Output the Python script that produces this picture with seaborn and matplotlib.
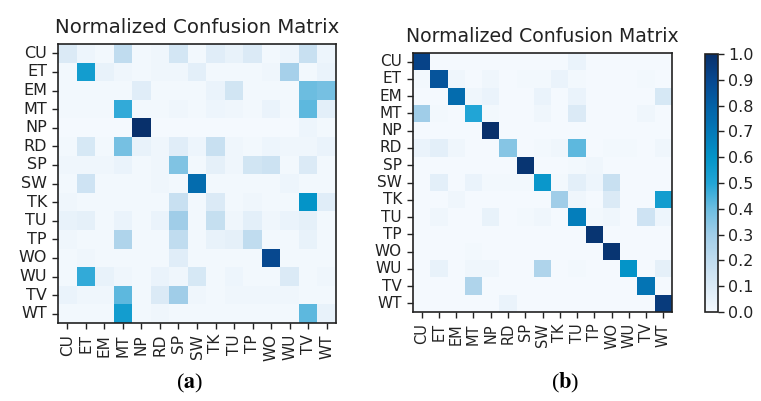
import numpy as np
import matplotlib
matplotlib.use("Agg")
import matplotlib.pyplot as plt
from matplotlib.colors import LinearSegmentedColormap
import seaborn as sns

labels = ["CU", "ET", "EM", "MT", "NP", "RD", "SP", "SW", "TK", "TU", "TP", "WO", "WU", "TV", "WT"]

matrix_a = [
    [0.10, 0.03, 0.01, 0.20, 0.01, 0.02, 0.13, 0.01, 0.08, 0.05, 0.10, 0.01, 0.03, 0.17, 0.03],
    [0.01, 0.55, 0.05, 0.02, 0.01, 0.02, 0.02, 0.07, 0.01, 0.01, 0.01, 0.02, 0.28, 0.01, 0.04],
    [0.01, 0.01, 0.01, 0.01, 0.08, 0.01, 0.01, 0.01, 0.04, 0.14, 0.01, 0.01, 0.01, 0.40, 0.38],
    [0.01, 0.01, 0.01, 0.48, 0.01, 0.01, 0.02, 0.01, 0.03, 0.02, 0.01, 0.04, 0.01, 0.42, 0.07],
    [0.00, 0.00, 0.00, 0.00, 1.00, 0.00, 0.00, 0.00, 0.00, 0.00, 0.00, 0.00, 0.00, 0.03, 0.01],
    [0.01, 0.12, 0.01, 0.38, 0.05, 0.02, 0.08, 0.03, 0.17, 0.02, 0.01, 0.03, 0.02, 0.02, 0.04],
    [0.02, 0.02, 0.02, 0.04, 0.01, 0.02, 0.36, 0.01, 0.06, 0.02, 0.14, 0.16, 0.01, 0.10, 0.01],
    [0.01, 0.15, 0.01, 0.01, 0.01, 0.02, 0.01, 0.75, 0.01, 0.01, 0.01, 0.01, 0.03, 0.01, 0.01],
    [0.02, 0.01, 0.01, 0.01, 0.01, 0.01, 0.17, 0.01, 0.10, 0.01, 0.02, 0.01, 0.01, 0.60, 0.08],
    [0.05, 0.06, 0.01, 0.04, 0.01, 0.04, 0.30, 0.01, 0.18, 0.02, 0.07, 0.02, 0.04, 0.06, 0.01],
    [0.02, 0.01, 0.01, 0.25, 0.01, 0.01, 0.20, 0.01, 0.05, 0.06, 0.20, 0.01, 0.01, 0.05, 0.01],
    [0.01, 0.02, 0.01, 0.01, 0.01, 0.01, 0.08, 0.01, 0.01, 0.01, 0.01, 0.90, 0.01, 0.01, 0.01],
    [0.01, 0.48, 0.05, 0.02, 0.01, 0.04, 0.02, 0.12, 0.01, 0.03, 0.01, 0.01, 0.10, 0.01, 0.02],
    [0.04, 0.02, 0.02, 0.42, 0.01, 0.10, 0.30, 0.02, 0.01, 0.02, 0.02, 0.02, 0.02, 0.01, 0.01],
    [0.01, 0.01, 0.01, 0.55, 0.01, 0.02, 0.01, 0.01, 0.01, 0.01, 0.01, 0.01, 0.01, 0.42, 0.05],
]

matrix_b = [
    [0.92, 0.00, 0.00, 0.00, 0.00, 0.00, 0.00, 0.00, 0.00, 0.04, 0.00, 0.00, 0.00, 0.00, 0.00],
    [0.01, 0.85, 0.02, 0.00, 0.02, 0.00, 0.01, 0.01, 0.04, 0.01, 0.00, 0.00, 0.00, 0.01, 0.00],
    [0.00, 0.00, 0.75, 0.02, 0.04, 0.00, 0.00, 0.04, 0.00, 0.04, 0.00, 0.00, 0.00, 0.00, 0.12],
    [0.30, 0.01, 0.00, 0.50, 0.01, 0.00, 0.00, 0.02, 0.00, 0.10, 0.00, 0.00, 0.00, 0.02, 0.00],
    [0.00, 0.00, 0.00, 0.00, 1.00, 0.00, 0.00, 0.00, 0.00, 0.00, 0.00, 0.00, 0.00, 0.00, 0.00],
    [0.04, 0.07, 0.02, 0.00, 0.00, 0.35, 0.00, 0.01, 0.02, 0.42, 0.00, 0.01, 0.01, 0.00, 0.02],
    [0.00, 0.00, 0.00, 0.00, 0.00, 0.00, 0.98, 0.00, 0.00, 0.01, 0.02, 0.00, 0.00, 0.00, 0.00],
    [0.00, 0.07, 0.00, 0.04, 0.01, 0.01, 0.01, 0.58, 0.01, 0.07, 0.03, 0.17, 0.00, 0.00, 0.00],
    [0.00, 0.00, 0.02, 0.00, 0.00, 0.00, 0.00, 0.00, 0.30, 0.02, 0.00, 0.10, 0.00, 0.00, 0.55],
    [0.00, 0.02, 0.00, 0.00, 0.05, 0.00, 0.01, 0.02, 0.00, 0.68, 0.01, 0.02, 0.00, 0.15, 0.03],
    [0.00, 0.00, 0.00, 0.00, 0.00, 0.00, 0.00, 0.00, 0.00, 0.00, 0.98, 0.00, 0.00, 0.00, 0.00],
    [0.00, 0.00, 0.00, 0.01, 0.00, 0.00, 0.00, 0.00, 0.00, 0.00, 0.00, 0.98, 0.00, 0.00, 0.00],
    [0.00, 0.05, 0.00, 0.02, 0.02, 0.00, 0.00, 0.25, 0.00, 0.01, 0.00, 0.00, 0.60, 0.00, 0.06],
    [0.00, 0.00, 0.00, 0.25, 0.00, 0.00, 0.00, 0.00, 0.00, 0.00, 0.00, 0.00, 0.00, 0.72, 0.00],
    [0.00, 0.00, 0.00, 0.00, 0.00, 0.04, 0.00, 0.00, 0.00, 0.00, 0.00, 0.00, 0.00, 0.00, 0.95],
]

title_text = "Normalized Confusion Matrix"
cbar_ticks = [0.0, 0.1, 0.2, 0.3, 0.4, 0.5, 0.6, 0.7, 0.8, 0.9, 1.0]

cmap = LinearSegmentedColormap.from_list(
    "refblues",
    ["#f4f9fe", "#dbeaf6", "#c0dcef", "#9fcde8", "#6cbde0", "#22a5d6",
     "#0494c8", "#0479b8", "#0461a6", "#074890", "#08306b"],
)

plt.rcParams["mathtext.fontset"] = "stix"

fig = plt.figure(figsize=(7.61, 4.01), dpi=100)
ax_a = fig.add_axes([58 / 761, 1 - 323 / 401, 278 / 761, 279 / 401])
ax_b = fig.add_axes([413 / 761, 1 - 312 / 401, 259 / 761, 259 / 401])
cax = fig.add_axes([705 / 761, 1 - 312 / 401, 13 / 761, 258 / 401])

sns.heatmap(np.array(matrix_a), ax=ax_a, cmap=cmap, vmin=0, vmax=1, cbar=False,
            xticklabels=labels, yticklabels=labels, square=False)
sns.heatmap(np.array(matrix_b), ax=ax_b, cmap=cmap, vmin=0, vmax=1, cbar=True,
            cbar_ax=cax, xticklabels=labels, yticklabels=labels, square=False,
            cbar_kws={"ticks": cbar_ticks})

for ax, ysize, xsize, tsize in [(ax_a, 11.5, 11, 14.2), (ax_b, 11, 10.5, 13.6)]:
    for sp in ax.spines.values():
        sp.set_visible(True)
        sp.set_color("#222222")
        sp.set_linewidth(1.2)
    ax.tick_params(axis="both", length=4.5, width=1, color="#222222")
    ax.set_yticklabels(labels, rotation=0, fontsize=ysize, color="#222222")
    ax.set_xticklabels(labels, rotation=90, fontsize=xsize, color="#222222")
    ax.set_title(title_text, fontsize=tsize, color="#222222", pad=8)

cax.tick_params(labelsize=11.5, length=4, width=1, color="#222222", labelcolor="#222222")
cb = ax_b.collections[0].colorbar
cb.outline.set_visible(True)
cb.outline.set_edgecolor("#222222")
cb.outline.set_linewidth(1.2)
cb.ax.set_yticklabels([f"{t:.1f}" for t in cbar_ticks])

fig.text(190 / 761, 1 - 383 / 401, r"($\mathbf{a}$)", ha="center", va="center",
         fontsize=16, family="Liberation Serif")
fig.text(565 / 761, 1 - 383 / 401, r"($\mathbf{b}$)", ha="center", va="center",
         fontsize=16, family="Liberation Serif")

fig.savefig("out.png", dpi=100, facecolor="white")
